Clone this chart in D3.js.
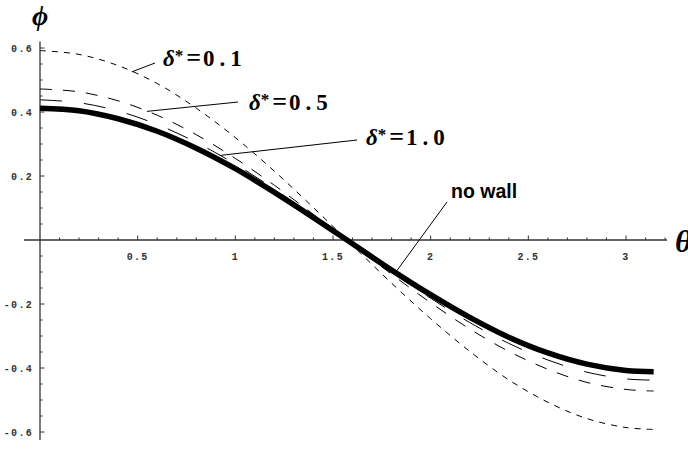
<!DOCTYPE html>
<html><head><meta charset="utf-8">
<script src="https://cdn.jsdelivr.net/npm/d3@7"></script>
<style>
html,body{margin:0;padding:0;background:#fff;}
svg{display:block;}
</style></head>
<body>
<svg id="chart" width="688" height="458"></svg>
<script>
// ---- data ----
const theta = [0, 0.2, 0.4, 0.6, 0.8, 1.0, 1.2, 1.4, 1.6, 1.8, 2.0, 2.2, 2.4, 2.6, 2.8, 3.0, 3.1416];
const phiNoWall = [0.412, 0.404, 0.379, 0.340, 0.287, 0.223, 0.149, 0.070, -0.012, -0.094, -0.171, -0.242, -0.304, -0.353, -0.388, -0.408, -0.412];
const phiDelta10 = [0.438, 0.429, 0.403, 0.361, 0.305, 0.237, 0.159, 0.074, -0.013, -0.100, -0.182, -0.258, -0.323, -0.375, -0.413, -0.434, -0.438];
const phiDelta05 = [0.472, 0.463, 0.435, 0.390, 0.329, 0.255, 0.171, 0.080, -0.014, -0.107, -0.196, -0.278, -0.348, -0.404, -0.445, -0.467, -0.472];
const phiDelta01 = [0.592, 0.580, 0.545, 0.489, 0.412, 0.320, 0.215, 0.101, -0.017, -0.135, -0.246, -0.348, -0.437, -0.507, -0.558, -0.586, -0.592];
const xTickLabels = ["0.5", "1", "1.5", "2", "2.5", "3"];
const yTickLabels = ["0.6", "0.4", "0.2", "-0.2", "-0.4", "-0.6"];
const deltaValues = ["0.1", "0.5", "1.0"];
const noWallLabel = "no wall";

// ---- layout ----
const svg = d3.select("#chart");
const x = d3.scaleLinear().domain([0, 3]).range([40, 626]);
const y = d3.scaleLinear().domain([-0.6, 0.6]).range([432, 48]);

const axisColor = "#333";

const g = svg.append("g");
g.append("line").attr("x1", x(-0.082)).attr("x2", x(3.21))
  .attr("y1", y(0)).attr("y2", y(0)).attr("stroke", axisColor).attr("stroke-width", 1.3);
g.append("line").attr("x1", x(0)).attr("x2", x(0))
  .attr("y1", y(0.62)).attr("y2", y(-0.625)).attr("stroke", axisColor).attr("stroke-width", 1.3);

const xMinor = d3.range(1, 33).map(i => i / 10);
xMinor.forEach(v => {
  const major = Math.abs(v * 2 - Math.round(v * 2)) < 1e-6;
  g.append("line").attr("x1", x(v)).attr("x2", x(v))
    .attr("y1", y(0)).attr("y2", y(0) - (major ? 4.5 : 2.5))
    .attr("stroke", axisColor).attr("stroke-width", 1);
});
const yMinor = d3.range(-12, 13).filter(i => i !== 0).map(i => i / 20);
yMinor.forEach(v => {
  const major = Math.abs(v * 5 - Math.round(v * 5)) < 1e-6;
  g.append("line").attr("x1", x(0)).attr("x2", x(0) + (major ? 4.5 : 2.5))
    .attr("y1", y(v)).attr("y2", y(v))
    .attr("stroke", axisColor).attr("stroke-width", 1);
});

const tickFont = {"font-family": "'Liberation Mono', 'DejaVu Sans Mono', monospace", "font-size": "10px", "font-weight": "bold"};
xTickLabels.forEach(t => {
  const tx = g.append("text").attr("x", x(+t)).attr("y", y(0) + 20)
    .attr("text-anchor", "middle").attr("fill", "#333").attr("letter-spacing", "1.3px").text(t);
  Object.entries(tickFont).forEach(([k, v]) => tx.attr(k, v));
});
yTickLabels.forEach(t => {
  const ty = g.append("text").attr("x", 33).attr("y", y(+t) + 3.5)
    .attr("text-anchor", "end").attr("fill", "#333").attr("letter-spacing", "1.3px").text(t);
  Object.entries(tickFont).forEach(([k, v]) => ty.attr(k, v));
});

// axis titles
svg.append("text").attr("x", 32).attr("y", 25)
  .attr("font-family", "'Liberation Serif', 'DejaVu Serif', serif")
  .attr("font-style", "italic").attr("font-weight", "bold").attr("font-size", "28px")
  .text("ϕ");
svg.append("text").attr("x", 675).attr("y", 252)
  .attr("font-family", "'Liberation Serif', 'DejaVu Serif', serif")
  .attr("font-style", "italic").attr("font-weight", "bold").attr("font-size", "32px")
  .text("θ");

// ---- curves ----
const line = d3.line().x(d => x(d[0])).y(d => y(d[1])).curve(d3.curveCatmullRom);
const series = [
  {vals: phiDelta01, dash: "6,6", w: 1},
  {vals: phiDelta05, dash: "12,11", w: 1},
  {vals: phiDelta10, dash: "22,22", w: 1},
  {vals: phiNoWall, dash: null, w: 5.5}
];
series.forEach(s => {
  const p = svg.append("path").datum(theta.map((t, i) => [t, s.vals[i]]))
    .attr("d", line).attr("fill", "none").attr("stroke", "#000")
    .attr("stroke-width", s.w);
  if (s.dash) p.attr("stroke-dasharray", s.dash);
});

// ---- annotations ----
function deltaLabel(px, py, valueText) {
  const t = svg.append("text").attr("x", px).attr("y", py)
    .attr("font-family", "'Liberation Serif', 'DejaVu Serif', serif")
    .attr("font-weight", "bold").attr("font-size", "23px").attr("fill", "#000");
  t.append("tspan").attr("font-style", "italic").text("δ");
  t.append("tspan").attr("font-size", "17px").attr("dy", -5).text("*");
  t.append("tspan").attr("dy", 5).attr("dx", 3).attr("font-size", "26px").text("=");
  t.append("tspan").attr("dx", 2).attr("letter-spacing", "5px").text(valueText);
}
deltaLabel(163, 66, deltaValues[0]);
deltaLabel(249, 110, deltaValues[1]);
deltaLabel(366, 145, deltaValues[2]);

svg.append("text").attr("x", 451).attr("y", 198)
  .attr("font-family", "'Liberation Sans', Arial, sans-serif")
  .attr("font-weight", "bold").attr("font-size", "19.5px").text(noWallLabel);

// pointer lines: from curve point (data coords) to label anchor
const pointers = [
  {t: 0.47, v: phiDelta01, lx: 155, ly: 63},
  {t: 0.547, v: phiDelta05, lx: 238, ly: 102},
  {t: 0.92, v: phiDelta10, lx: 357, ly: 140},
  {t: 1.82, v: phiNoWall, lx: 447, ly: 202}
];
const interp = (vals, t) => {
  const i = Math.max(0, d3.bisectLeft(theta, t) - 1);
  const f = (t - theta[i]) / (theta[i + 1] - theta[i]);
  return vals[i] + f * (vals[i + 1] - vals[i]);
};
pointers.forEach(p => {
  svg.append("line").attr("x1", x(p.t)).attr("y1", y(interp(p.v, p.t)))
    .attr("x2", p.lx).attr("y2", p.ly).attr("stroke", "#000").attr("stroke-width", 1);
});
</script>
</body></html>
